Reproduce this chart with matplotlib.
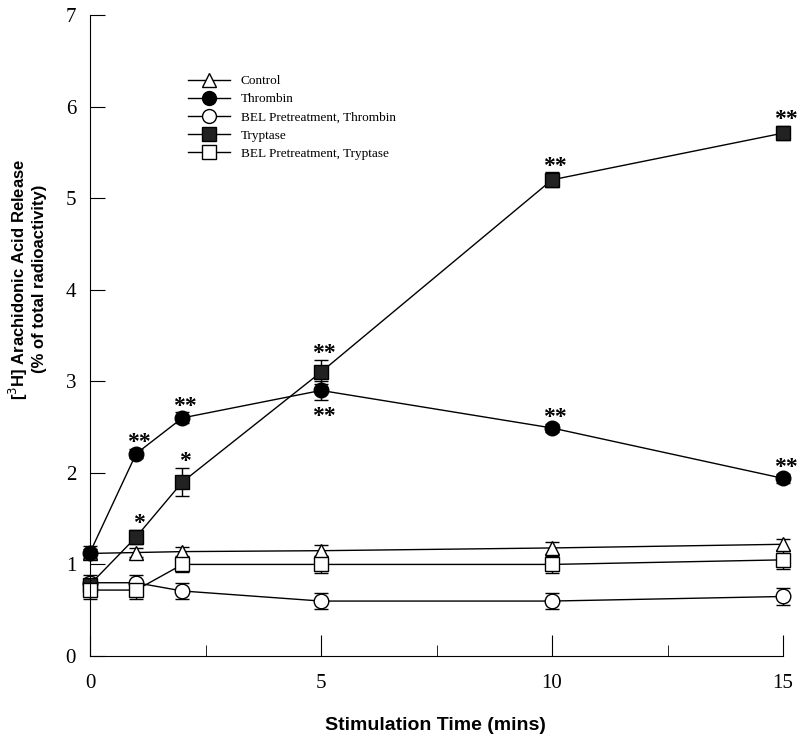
import matplotlib.pyplot as plt
from matplotlib.lines import Line2D

plt.rcParams['font.family'] = ['Liberation Serif', 'DejaVu Serif']

time = [0, 1, 2, 5, 10, 15]

control = [1.12, 1.13, 1.14, 1.15, 1.18, 1.22]
control_err = [0.05, 0.05, 0.05, 0.06, 0.07, 0.06]

thrombin = [1.13, 2.21, 2.6, 2.9, 2.49, 1.94]
thrombin_err = [0.07, 0.05, 0.06, 0.1, 0.04, 0.05]

bel_thrombin = [0.8, 0.8, 0.71, 0.6, 0.6, 0.65]
bel_thrombin_err = [0.09, 0.09, 0.09, 0.09, 0.09, 0.09]

tryptase = [0.78, 1.3, 1.9, 3.1, 5.2, 5.71]
tryptase_err = [0.05, 0.08, 0.15, 0.13, 0.08, 0.08]

bel_tryptase = [0.72, 0.72, 1.0, 1.0, 1.0, 1.05]
bel_tryptase_err = [0.1, 0.1, 0.08, 0.09, 0.09, 0.1]

# significance marks: (x, text, above?)
thrombin_sig = [(1, '**', True), (2, '**', True), (5, '**', False), (10, '**', True), (15, '**', True)]
tryptase_sig = [(1, '*', True), (2, '*', True), (5, '**', True), (10, '**', True), (15, '**', True)]

fig = plt.figure(figsize=(8, 7.41), dpi=100)
ax = fig.add_axes([0.1125, 0.1147, 0.8663, 0.8651])

series = [
    ('Control', control, control_err, '^', 'white'),
    ('Thrombin', thrombin, thrombin_err, 'o', 'black'),
    ('BEL Pretreatment, Thrombin', bel_thrombin, bel_thrombin_err, 'o', 'white'),
    ('Tryptase', tryptase, tryptase_err, 's', '#222222'),
    ('BEL Pretreatment, Tryptase', bel_tryptase, bel_tryptase_err, 's', 'white'),
]
handles = []
for label, y, err, m, fc in series:
    ax.errorbar(time, y, yerr=err, color='black', lw=1, marker=m, markersize=10.5,
                markerfacecolor=fc, markeredgecolor='black', markeredgewidth=1,
                capsize=5, elinewidth=1, capthick=1, clip_on=False)
    handles.append(Line2D([], [], color='black', lw=1, marker=m, markersize=10,
                          markerfacecolor=fc, markeredgecolor='black', label=label))

for vals, errs, sig in [(thrombin, thrombin_err, thrombin_sig), (tryptase, tryptase_err, tryptase_sig)]:
    for x, txt, above in sig:
        i = time.index(x)
        if above:
            ax.annotate(txt, (x, vals[i] + errs[i]), xytext=(2, -3), textcoords='offset points',
                        ha='center', va='bottom', fontsize=17, fontweight='bold')
        else:
            ax.annotate(txt, (x, vals[i] - errs[i]), xytext=(2, -20), textcoords='offset points',
                        ha='center', va='bottom', fontsize=17, fontweight='bold')

ax.set_xlim(0, 15)
ax.set_ylim(0, 7)
ax.spines['top'].set_visible(False)
ax.spines['right'].set_visible(False)
ax.set_xticks([0, 5, 10, 15])
ax.set_xticks([2.5, 7.5, 12.5], minor=True)
ax.set_yticks(range(8))
ax.tick_params(axis='y', direction='in', length=11, labelsize=15, pad=10)
ax.tick_params(axis='x', which='major', direction='in', length=15, labelsize=15, pad=13)
ax.tick_params(axis='x', which='minor', direction='in', length=8)

fig.text(435 / 800, 1 - 725 / 741, 'Stimulation Time (mins)', family='Liberation Sans',
         fontweight='bold', fontsize=14, ha='center', va='center')
fig.text(27 / 800, 1 - 279 / 741, '[$^3$H] Arachidonic Acid Release\n(% of total radioactivity)',
         family='Liberation Sans', fontweight='bold', fontsize=12, ha='center', va='center',
         rotation=90, linespacing=1.1)

ax.legend(handles=handles, loc='upper left', bbox_to_anchor=(0.124, 0.925), frameon=False, fontsize=9.5,
          handlelength=3.2, labelspacing=0.45, markerscale=1.0)

fig.savefig('out.png', dpi=100)
